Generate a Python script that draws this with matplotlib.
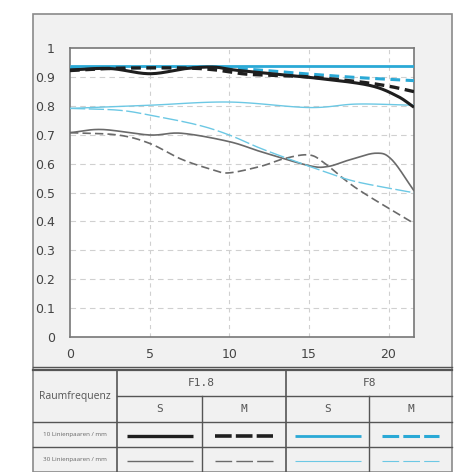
import matplotlib
matplotlib.use("Agg")
import matplotlib.pyplot as plt
from matplotlib.lines import Line2D
from matplotlib.patches import Rectangle
import numpy as np

plt.rcParams["lines.scale_dashes"] = False

# ---- data ----
x_f18_s10 = [0, 2.5, 5, 7.3, 9, 10.3, 12.5, 15.1, 18.7, 20.5, 21.6]
y_f18_s10 = [0.924, 0.929, 0.911, 0.929, 0.934, 0.924, 0.912, 0.898, 0.872, 0.835, 0.795]

x_f18_m10 = [0, 3, 7, 9, 11, 13, 15, 18, 20, 21.6]
y_f18_m10 = [0.922, 0.930, 0.931, 0.925, 0.910, 0.905, 0.900, 0.884, 0.868, 0.849]

x_f8_s10 = [0, 5, 10, 15, 20, 21.6]
y_f8_s10 = [0.938, 0.938, 0.938, 0.938, 0.938, 0.938]

x_f8_m10 = [0, 5, 10, 15, 18, 21.6]
y_f8_m10 = [0.930, 0.932, 0.930, 0.910, 0.898, 0.887]

x_f18_s30 = [0, 2, 5, 7, 10, 12, 15, 16.2, 17.5, 19.2, 20.2, 21.6]
y_f18_s30 = [0.707, 0.718, 0.699, 0.705, 0.676, 0.641, 0.593, 0.590, 0.612, 0.636, 0.614, 0.506]

x_f18_m30 = [0, 3, 5, 7, 9, 10, 12, 13.5, 15, 16, 18, 21.6]
y_f18_m30 = [0.707, 0.699, 0.670, 0.615, 0.578, 0.568, 0.591, 0.618, 0.630, 0.601, 0.514, 0.393]

x_f8_s30 = [0, 5, 10, 15, 18, 21.6]
y_f8_s30 = [0.791, 0.802, 0.813, 0.794, 0.806, 0.802]

x_f8_m30 = [0, 3, 5, 8, 10, 12, 14.5, 16, 18, 21.6]
y_f8_m30 = [0.791, 0.785, 0.768, 0.734, 0.699, 0.652, 0.601, 0.572, 0.537, 0.499]

x_ticks = [0, 5, 10, 15, 20]
y_ticks = [0, 0.1, 0.2, 0.3, 0.4, 0.5, 0.6, 0.7, 0.8, 0.9, 1]
y_tick_labels = ["0", "0.1", "0.2", "0.3", "0.4", "0.5", "0.6", "0.7", "0.8", "0.9", "1"]

header_label = "Raumfrequenz"
aperture_labels = ["F1.8", "F8"]
orient_labels = ["S", "M", "S", "M"]
row_labels = ["10 Linienpaaren / mm", "30 Linienpaaren / mm"]

# ---- styles ----
BLACK = "#1e1e1e"
GRAY = "#6a6a6a"
CYAN = "#2aa9d6"
LCYAN = "#6cc8e4"

W, H = 463, 472
fig = plt.figure(figsize=(W / 100, H / 100), dpi=100)
fig.patch.set_facecolor("white")

def fx(px):
    return px / W

def fy(py):
    return 1 - py / H

frame = Rectangle((fx(33), fy(472)), fx(452) - fx(33), fy(14) - fy(472),
                  transform=fig.transFigure, facecolor="#f1f1f1",
                  edgecolor="#8a8a8a", lw=1.2, zorder=-5)
fig.add_artist(frame)

ax = fig.add_axes([fx(70), fy(337), fx(414) - fx(70), fy(48) - fy(337)])
ax.set_zorder(2)
ax.set_facecolor("white")
ax.set_xlim(0, 21.6)
ax.set_ylim(0, 1)

for yv in y_ticks[1:-1]:
    ax.axhline(yv, color="#d0d0d0", lw=0.8, ls=(0, (4, 3)), zorder=1)
for xv in x_ticks[1:]:
    ax.axvline(xv, color="#d0d0d0", lw=0.8, ls=(0, (3, 3)), zorder=1)


def smooth(xs, ys, n=24):
    """Catmull-Rom rendering through the read points."""
    xs = np.asarray(xs, float); ys = np.asarray(ys, float)
    px = np.concatenate([[2 * xs[0] - xs[1]], xs, [2 * xs[-1] - xs[-2]]])
    py = np.concatenate([[2 * ys[0] - ys[1]], ys, [2 * ys[-1] - ys[-2]]])
    ox, oy = [], []
    t = np.linspace(0, 1, n, endpoint=False)
    for i in range(1, len(px) - 2):
        for P, out in ((px, ox), (py, oy)):
            p0, p1, p2, p3 = P[i - 1], P[i], P[i + 1], P[i + 2]
            out.extend(0.5 * (2 * p1 + (-p0 + p2) * t + (2 * p0 - 5 * p1 + 4 * p2 - p3) * t ** 2
                              + (-p0 + 3 * p1 - 3 * p2 + p3) * t ** 3))
    ox.append(xs[-1]); oy.append(ys[-1])
    return np.array(ox), np.array(oy)


def curve(xs, ys, color, lw, dash=None):
    sx, sy = smooth(xs, ys)
    ax.plot(sx, sy, color=color, lw=lw,
            ls=(0, dash) if dash else "-", zorder=3,
            solid_capstyle="butt", dash_capstyle="butt")

curve(x_f18_s30, y_f18_s30, GRAY, 1.2)
curve(x_f18_m30, y_f18_m30, GRAY, 1.2, (6, 3))
curve(x_f8_s30, y_f8_s30, LCYAN, 1.0)
curve(x_f8_m30, y_f8_m30, LCYAN, 1.0, (11, 2.5))
curve(x_f8_s10, y_f8_s10, CYAN, 2.0)
curve(x_f8_m10, y_f8_m10, CYAN, 2.2, (7, 4))
curve(x_f18_m10, y_f18_m10, BLACK, 2.4, (7, 4))
curve(x_f18_s10, y_f18_s10, BLACK, 2.2)

ax.set_xticks(x_ticks)
ax.set_xticklabels([str(t) for t in x_ticks])
ax.set_yticks(y_ticks)
ax.set_yticklabels(y_tick_labels)
ax.tick_params(length=0, labelsize=9, colors="#444444", pad=8)
ax.tick_params(axis="y", pad=11)
for s in ax.spines.values():
    s.set_color("#777777")
    s.set_linewidth(1.2)

# ---- table ----
col_x = [33, 117, 202, 286, 369, 452]
row_y = [370, 396, 422, 447, 472]
lc = "#555555"

def hline(y, x0, x1, lw=1.0):
    fig.add_artist(Line2D([fx(x0), fx(x1)], [fy(y), fy(y)], transform=fig.transFigure,
                          color=lc, lw=lw))

def vline(x, y0, y1, lw=1.0):
    fig.add_artist(Line2D([fx(x), fx(x)], [fy(y0), fy(y1)], transform=fig.transFigure,
                          color=lc, lw=lw))

hline(367, 33, 452, 1.0)
hline(370, 33, 452, 1.6)
hline(396, 117, 452)
hline(422, 33, 452)
hline(447, 33, 452)
vline(117, 370, 472, 1.2)
vline(202, 396, 472)
vline(286, 370, 472, 1.2)
vline(369, 396, 472)

fig.text(fx(75), fy(397), header_label, ha="center", va="center", fontsize=7.5,
         color="#555555", family="Open Sans")
fig.text(fx((117 + 286) / 2), fy(383), aperture_labels[0], ha="center", va="center",
         fontsize=8, color="#555555", family="DejaVu Sans Mono")
fig.text(fx((286 + 452) / 2), fy(383), aperture_labels[1], ha="center", va="center",
         fontsize=8, color="#555555", family="DejaVu Sans Mono")
for i, lab in enumerate(orient_labels):
    cx = (col_x[i + 1] + col_x[i + 2]) / 2
    fig.text(fx(cx), fy(409), lab, ha="center", va="center", fontsize=8,
             color="#555555", family="DejaVu Sans Mono")
for j, lab in enumerate(row_labels):
    cy = (row_y[j + 2] + row_y[j + 3]) / 2
    fig.text(fx(75), fy(cy), lab, ha="center", va="center", fontsize=4.5,
             color="#666666", family="Open Sans")

legend_styles = [
    (BLACK, 2.4), (BLACK, 2.6), (CYAN, 2.0), (CYAN, 2.2),
    (GRAY, 1.0), (GRAY, 1.0), (LCYAN, 0.8), (LCYAN, 0.8),
]
DASH_PTS = (12.0, 3.0)
dash_half_px = (3 * DASH_PTS[0] + 2 * DASH_PTS[1]) * 100 / 72 / 2 - 0.3
for k, (c, lw) in enumerate(legend_styles):
    r = k // 4
    ci = k % 4
    dashed = ci in (1, 3)
    cx = (col_x[ci + 1] + col_x[ci + 2]) / 2
    half = dash_half_px if dashed else 33
    cy = (row_y[r + 2] + row_y[r + 3]) / 2 + 1
    fig.add_artist(Line2D([fx(cx - half), fx(cx + half)], [fy(cy), fy(cy)],
                          transform=fig.transFigure,
                          color=c, lw=lw, ls=(0, DASH_PTS) if dashed else "-",
                          solid_capstyle="butt", dash_capstyle="butt"))

fig.savefig("out.png", dpi=100, facecolor=fig.get_facecolor())
